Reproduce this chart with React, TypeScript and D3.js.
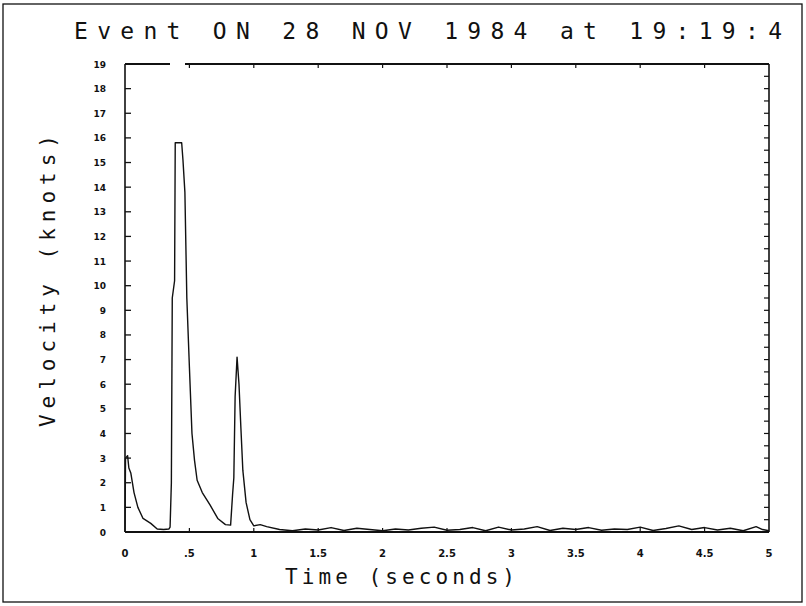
import React from "react";
import * as d3 from "d3";

const titleText = "Event ON 28 NOV 1984 at 19:19:4";
const xTitle = "Time (seconds)";
const yTitle = "Velocity (knots)";

const xTickValues = [0, 0.5, 1, 1.5, 2, 2.5, 3, 3.5, 4, 4.5, 5];
const xTickLabels = ["0", ".5", "1", "1.5", "2", "2.5", "3", "3.5", "4", "4.5", "5"];
const yTickValues = [0, 1, 2, 3, 4, 5, 6, 7, 8, 9, 10, 11, 12, 13, 14, 15, 16, 17, 18, 19];

const timeSec = [
  0, 0.004, 0.02, 0.03, 0.045, 0.07, 0.1, 0.14, 0.2, 0.25, 0.3, 0.34,
  0.35, 0.36, 0.367, 0.385, 0.39, 0.44, 0.45, 0.465, 0.48, 0.5, 0.52, 0.54, 0.56,
  0.6, 0.66, 0.72, 0.78, 0.82, 0.835, 0.845, 0.855, 0.87, 0.885, 0.9, 0.915, 0.94, 0.97,
  1.0, 1.05, 1.1, 1.2, 1.3, 1.4, 1.5, 1.6, 1.7, 1.8, 1.9, 2.0, 2.1, 2.2, 2.3, 2.4,
  2.5, 2.6, 2.7, 2.8, 2.9, 3.0, 3.1, 3.2, 3.3, 3.4, 3.5, 3.6, 3.7, 3.8, 3.9, 4.0,
  4.1, 4.2, 4.3, 4.4, 4.5, 4.6, 4.7, 4.8, 4.9, 4.95, 5.0,
];
const velocityKnots = [
  0, 3.0, 3.1, 2.6, 2.4, 1.6, 1.0, 0.55, 0.35, 0.12, 0.1, 0.12,
  0.2, 2.0, 9.5, 10.2, 15.8, 15.8, 15.1, 13.8, 9.5, 6.7, 4.0, 2.9, 2.1,
  1.6, 1.1, 0.55, 0.3, 0.28, 1.5, 2.2, 5.5, 7.1, 6.0, 4.2, 2.5, 1.2, 0.5,
  0.25, 0.3, 0.22, 0.1, 0.05, 0.12, 0.08, 0.18, 0.06, 0.15, 0.1, 0.05, 0.12, 0.08, 0.15, 0.2,
  0.07, 0.1, 0.18, 0.05, 0.2, 0.08, 0.12, 0.22, 0.06, 0.15, 0.1, 0.18, 0.07, 0.12, 0.1, 0.2,
  0.06, 0.14, 0.25, 0.1, 0.18, 0.08, 0.15, 0.05, 0.22, 0.1, 0.05,
];

export default function App() {
  const W = 806, H = 606;
  const left = 125, right = 769, top = 64, bottom = 532;
  const x = d3.scaleLinear().domain([0, 5]).range([left, right]);
  const y = d3.scaleLinear().domain([0, 19]).range([bottom, top]);
  const pts: [number, number][] = timeSec.map((t, i) => [t, velocityKnots[i]]);
  const line = d3.line<[number, number]>().x(d => x(d[0])).y(d => y(d[1]));
  const rightTicks = d3.range(0, 19.01, 0.5);
  const ink = "#111";
  const mono = "'DejaVu Sans Mono', monospace";
  const sans = "'DejaVu Sans', sans-serif";

  return (
    <svg width={W} height={H} style={{ position: "absolute", left: 0, top: 0, background: "#fff" }}>
      <rect x={0} y={0} width={W} height={H} fill="#fff" />
      {/* outer frame */}
      <rect x={3} y={4} width={799} height={598} fill="none" stroke={ink} strokeWidth={1.3} />
      {/* title */}
      <text x={74} y={39} fontFamily={mono} fontSize={23} fill={ink} textLength={708} lengthAdjust="spacing">
        {titleText}
      </text>
      {/* plot frame */}
      <line x1={left} x2={170} y1={top} y2={top} stroke={ink} strokeWidth={2} />
      <line x1={185} x2={right} y1={top} y2={top} stroke={ink} strokeWidth={2} />
      <line x1={left} x2={right} y1={bottom} y2={bottom} stroke={ink} strokeWidth={2} />
      <line x1={left} x2={left} y1={top} y2={bottom} stroke={ink} strokeWidth={1.6} />
      <line x1={right} x2={right} y1={top} y2={bottom} stroke={ink} strokeWidth={1.6} />
      {/* left ticks */}
      {yTickValues.map(v => (
        <g key={"yl" + v}>
          <line x1={left} x2={left + 6} y1={y(v)} y2={y(v)} stroke={ink} strokeWidth={1.3} />
          <text x={106} y={y(v) + 3.5} textAnchor="end" fontFamily={sans} fontWeight="bold" fontSize={9} fill={ink}>
            {v}
          </text>
        </g>
      ))}
      {/* right ticks */}
      {rightTicks.map(v => (
        <line key={"yr" + v} x1={right - 5} x2={right} y1={y(v)} y2={y(v)} stroke={ink} strokeWidth={1.2} />
      ))}
      {/* top and bottom ticks */}
      {xTickValues.map((v, i) => (
        <g key={"x" + v}>
          {v > 0 && v < 5 && (
            <>
              <line x1={x(v)} x2={x(v)} y1={top} y2={top + 4} stroke={ink} strokeWidth={1.2} />
              <line x1={x(v)} x2={x(v)} y1={bottom} y2={bottom - 4} stroke={ink} strokeWidth={1.2} />
            </>
          )}
          <text x={x(v)} y={557} textAnchor="middle" fontFamily={sans} fontWeight="bold" fontSize={10} fill={ink}>
            {xTickLabels[i]}
          </text>
        </g>
      ))}
      {/* data trace */}
      <path d={line(pts) || ""} fill="none" stroke={ink} strokeWidth={1.4} strokeLinejoin="round" />
      {/* axis titles */}
      <text x={285} y={584} fontFamily={mono} fontSize={21} fill={ink} textLength={230} lengthAdjust="spacing">
        {xTitle}
      </text>
      <text
        transform={`translate(55, ${427}) rotate(-90)`}
        x={0}
        y={0}
        fontFamily={mono}
        fontSize={21}
        fill={ink}
        textLength={292}
        lengthAdjust="spacing"
      >
        {yTitle}
      </text>
    </svg>
  );
}
